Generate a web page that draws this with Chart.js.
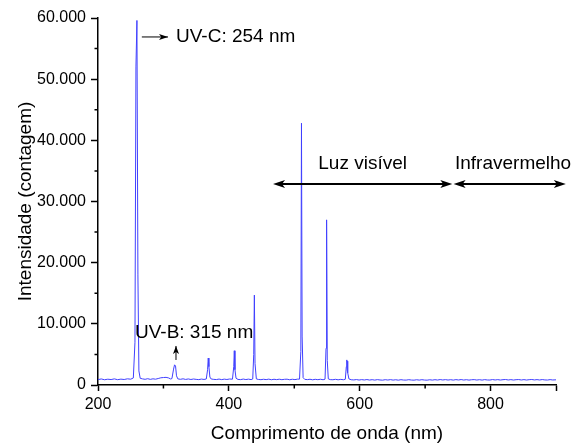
<!DOCTYPE html>
<html>
<head>
<meta charset="utf-8">
<script src="https://cdn.jsdelivr.net/npm/chart.js@4/dist/chart.umd.min.js"></script>
<style>
html,body{margin:0;padding:0;background:#fff;}
#wrap{width:573px;height:445px;}
</style>
</head>
<body>
<div id="wrap"><canvas id="c" width="573" height="445"></canvas></div>
<script>
// Wavelength (nm)
const wavelength = [
200,205,210,215,220,225,230,235,240,245,250,
254,256.5,258,259.5,261,262.5,264.5,
268,272,276,280,284,288,292,296,300,304,308,311,
313,315.5,317,318.5,320,322,
326,330,334,338,342,346,350,354,358,362,365.5,
367.5,368.5,369.5,371,373,
377,381,385,389,393,397,401,405.5,
407.5,408.3,409.3,411,
414,418,422,426,430,434,436.5,
438,439,440,442,
445,449,453,457,461,465,469,473,477,481,485,489,493,497,501,505,508,
510,511,512,513.5,
516,520,524,528,532,536,540,544,547,
548.5,549.4,550.4,552,
555,559,563,567,571,575,578,
579.5,580.3,580.8,581.3,582,583.5,
587,591,595,599,603,607,611,615,619,623,627,631,635,639,643,647,651,655,659,663,667,671,675,679,683,687,691,695,699,
703,707,711,715,719,723,727,731,735,739,743,747,751,755,759,763,767,771,775,779,783,787,791,795,799,
803,807,811,815,819,823,827,831,835,839,843,847,851,855,859,863,867,871,875,879,883,887,891,895,900
];
// Intensity (counts)
const intensity = [
880,990,860,950,890,1000,870,960,900,1010,950,
1150,7000,52000,59600,18000,2300,1100,
1000,930,1030,920,1010,950,1060,1180,1220,1250,1150,980,
1050,2600,3300,3100,1500,1000,
930,1010,910,990,900,980,920,880,970,910,980,
2500,4400,3000,1300,980,
920,890,970,880,960,900,980,950,
3000,5600,2500,1100,
910,880,970,890,960,880,980,
5000,14700,3500,1000,
910,870,940,880,960,860,940,880,950,870,930,950,860,940,880,960,960,
5500,42800,8000,1200,
920,880,940,850,930,870,940,860,950,
6000,27000,4000,1000,
880,860,930,850,920,860,940,
3000,4100,2500,3900,2000,1000,
860,830,890,810,880,820,890,810,870,800,880,820,790,870,810,880,800,860,790,870,810,800,870,810,790,860,800,870,810,
790,860,800,870,810,890,820,880,810,870,800,880,820,890,810,870,800,860,880,810,870,800,880,820,810,
890,820,880,810,870,900,820,880,810,870,890,820,880,810,870,900,830,880,820,890,830,810,880,820,850
];
const xTicksMajor = [200,400,600,800];
const yTicksMajor = [0,10000,20000,30000,40000,50000,60000];

const FONT = "'Liberation Sans', Arial, sans-serif";

function fmtThousands(v){
  return String(v).replace(/\B(?=(\d{3})+(?!\d))/g, '.');
}

function arrowHead(ctx, x, y, angle, len, half){
  ctx.save();
  ctx.translate(x, y);
  ctx.rotate(angle);
  ctx.beginPath();
  ctx.moveTo(0,0);
  ctx.lineTo(-len, -half);
  ctx.lineTo(-len*0.75, 0);
  ctx.lineTo(-len, half);
  ctx.closePath();
  ctx.fill();
  ctx.restore();
}

const annotPlugin = {
  id: 'annot',
  afterDraw(chart){
    const ctx = chart.ctx;
    const xs = chart.scales.x, ys = chart.scales.y;
    const X = v => xs.getPixelForValue(v), Y = v => ys.getPixelForValue(v);
    ctx.save();
    // minor ticks
    ctx.strokeStyle = '#000';
    ctx.lineWidth = 1.5;
    ctx.beginPath();
    for (let v = 300; v < 900; v += 200){
      const px = X(v);
      ctx.moveTo(px, ys.bottom); ctx.lineTo(px, ys.bottom + 3.5);
    }
    for (let v = 5000; v < 60000; v += 10000){
      const py = Y(v);
      ctx.moveTo(xs.left, py); ctx.lineTo(xs.left - 3.5, py);
    }
    ctx.stroke();

    ctx.fillStyle = '#000';
    ctx.font = "19px " + FONT;
    ctx.textBaseline = 'middle';
    ctx.textAlign = 'left';

    // UV-C label and arrow
    ctx.lineWidth = 1;
    ctx.beginPath();
    ctx.moveTo(X(267), Y(56900)); ctx.lineTo(X(307), Y(56900));
    ctx.stroke();
    arrowHead(ctx, X(307), Y(56900), 0, 9, 3);
    ctx.fillText('UV-C: 254 nm', X(319.2), Y(56900));

    // UV-B label and arrow
    ctx.fillText('UV-B: 315 nm', X(256.5), Y(8550));
    ctx.beginPath();
    ctx.moveTo(X(319.2), Y(4090)); ctx.lineTo(X(319.2), Y(6380));
    ctx.stroke();
    arrowHead(ctx, X(319.2), Y(6380), -Math.PI/2, 8, 3);

    // region arrows
    ctx.lineWidth = 2;
    const ya = Y(32860);
    const segs = [[467.5, 741.5],[743.5, 915]];
    segs.forEach(([a,b])=>{
      ctx.beginPath();
      ctx.moveTo(X(a)+4, ya); ctx.lineTo(X(b)-4, ya);
      ctx.stroke();
      arrowHead(ctx, X(b), ya, 0, 12, 4);
      arrowHead(ctx, X(a), ya, Math.PI, 12, 4);
    });
    ctx.fillText('Luz visível', X(536.7), Y(36250));
    ctx.fillText('Infravermelho', X(745.6), Y(36250));
    ctx.restore();
  }
};

const points = wavelength.map((w,i)=>({x:w, y:intensity[i]}));

new Chart(document.getElementById('c'), {
  type: 'line',
  data: {
    datasets: [{
      data: points,
      borderColor: '#4040ff',
      borderWidth: 1,
      pointRadius: 0,
      tension: 0,
      fill: false
    }]
  },
  options: {
    responsive: false,
    animation: false,
    devicePixelRatio: 1,
    layout: { padding: { left: 0, right: 17, top: 18, bottom: 0 } },
    plugins: { legend: { display: false }, tooltip: { enabled: false } },
    scales: {
      x: {
        type: 'linear', min: 200, max: 900,
        afterFit: s => { s.height = 60; },
        border: { display: true, color: '#000', width: 1.5 },
        grid: { display: true, drawOnChartArea: false, drawTicks: true, tickLength: 6,
          tickWidth: 1.5,
          tickColor: c => xTicksMajor.includes(c.tick && c.tick.value) || (c.tick && c.tick.value===900) ? '#000' : 'rgba(0,0,0,0)' },
        ticks: { stepSize: 100, color: '#000', padding: 4, maxRotation: 0, autoSkip: false,
          font: { family: FONT, size: 16 },
          callback: v => xTicksMajor.includes(v) ? String(v) : '' },
        title: { display: true, text: 'Comprimento de onda (nm)', color: '#000',
          font: { family: FONT, size: 19 }, padding: { top: 0, bottom: 0 } }
      },
      y: {
        type: 'linear', min: 0, max: 60000,
        afterFit: s => { s.width = 98; },
        border: { display: true, color: '#000', width: 1.5 },
        grid: { display: true, drawOnChartArea: false, drawTicks: true, tickLength: 7,
          tickWidth: 1.5,
          tickColor: c => yTicksMajor.includes(c.tick && c.tick.value) ? '#000' : 'rgba(0,0,0,0)' },
        ticks: { stepSize: 5000, color: '#000', padding: 5, autoSkip: false,
          font: { family: FONT, size: 16 },
          callback: v => yTicksMajor.includes(v) ? fmtThousands(v) : '' },
        title: { display: true, text: 'Intensidade (contagem)', color: '#000',
          font: { family: FONT, size: 19 }, padding: { top: 14, bottom: 0 } }
      }
    }
  },
  plugins: [annotPlugin]
});
</script>
</body>
</html>
